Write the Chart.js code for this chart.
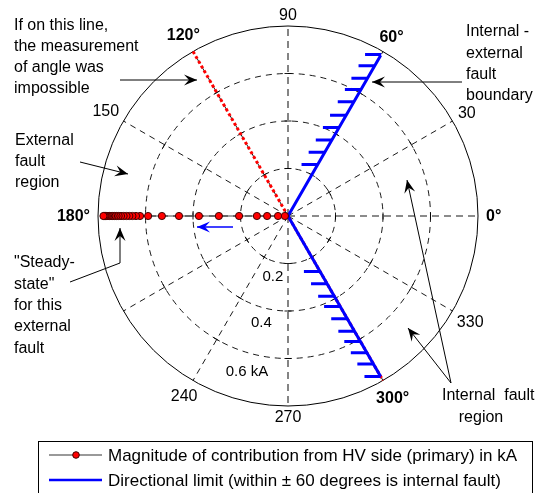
<!DOCTYPE html>
<html>
<head>
<meta charset="utf-8">
<script src="https://cdn.jsdelivr.net/npm/chart.js@4"></script>
<style>
  html, body { margin: 0; padding: 0; background: #fff; }
  canvas { display: block; }
</style>
</head>
<body>
<canvas id="polarChart" width="538" height="493"></canvas>
<script>
// Measured HV-side contribution (kA), all at 180 degrees
const hvAngleDeg = 180;
const hvMagnitudeKA = [0.013, 0.042, 0.088, 0.131, 0.206, 0.291, 0.375, 0.459, 0.531, 0.589,
    0.623, 0.640, 0.655, 0.668, 0.680, 0.692, 0.703, 0.713, 0.722, 0.730,
    0.738, 0.745, 0.752, 0.758, 0.763, 0.768, 0.772, 0.777];

// Directional limit lines and their hatching
const limitAnglesDeg = [60, 300];
const limitLengthKA = 0.78;
const hatchRadii60 = [0.25, 0.31, 0.37, 0.43, 0.49, 0.555, 0.615, 0.67, 0.73, 0.785];
const hatchRadii300 = [0.27, 0.33, 0.39, 0.44, 0.50, 0.56, 0.61, 0.665, 0.72, 0.78];
const hatchLengthKA = 0.068;

// "Impossible measurement" line
const impossibleAnglesDeg = [120, 300];

// Polar grid
const outerRadiusKA = 0.8;
const ringTicksKA = [0.2, 0.4, 0.6];
const ringLabels = ['0.2', '0.4', '0.6 kA'];
const spokeAnglesDeg = [0, 30, 60, 90, 120, 150, 180, 210, 240, 270, 300, 330];
const spokeLabels = ['0°', '30', '60°', '90', '120°', '150', '180°', '', '240', '270', '300°', '330'];
const boldSpokes = [0, 60, 120, 180, 300];

const FONT = '"Liberation Sans", Arial, Helvetica, sans-serif';

function toXY(r, deg) {
    const a = deg * Math.PI / 180;
    return { x: r * Math.cos(a), y: r * Math.sin(a) };
}

const hvPoints = hvMagnitudeKA.map(r => toXY(r, hvAngleDeg));
const limitPoints = [toXY(limitLengthKA, limitAnglesDeg[0]), { x: 0, y: 0 }, toXY(limitLengthKA, limitAnglesDeg[1])];
const impossiblePoints = impossibleAnglesDeg.map(a => toXY(outerRadiusKA, a));

// each hatch is a short horizontal segment, separated by gaps
const hatchPoints = [];
[[hatchRadii60, limitAnglesDeg[0]], [hatchRadii300, limitAnglesDeg[1]]].forEach(([radii, ang]) => {
    radii.forEach(r => {
        const p = toXY(r, ang);
        hatchPoints.push(p, { x: p.x - hatchLengthKA, y: p.y }, { x: NaN, y: NaN });
    });
});

function arrow(ctx, pts, color, width) {
    ctx.save();
    ctx.strokeStyle = color;
    ctx.fillStyle = color;
    ctx.lineWidth = width;
    ctx.setLineDash([]);
    ctx.beginPath();
    ctx.moveTo(pts[0][0], pts[0][1]);
    for (let i = 1; i < pts.length; i++) ctx.lineTo(pts[i][0], pts[i][1]);
    ctx.stroke();
    const [x1, y1] = pts[pts.length - 2];
    const [x2, y2] = pts[pts.length - 1];
    const a = Math.atan2(y2 - y1, x2 - x1);
    const len = 13, half = 5.5, notch = 8;
    ctx.translate(x2, y2);
    ctx.rotate(a);
    ctx.beginPath();
    ctx.moveTo(0, 0);
    ctx.lineTo(-len, -half);
    ctx.lineTo(-notch, 0);
    ctx.lineTo(-len, half);
    ctx.closePath();
    ctx.fill();
    ctx.restore();
}

function textLines(ctx, lines, x, y0, step, align) {
    ctx.textAlign = align || 'left';
    lines.forEach((t, i) => ctx.fillText(t, x, y0 + i * step));
}

const polarGrid = {
    id: 'polarGrid',
    beforeDatasetsDraw(chart) {
        const ctx = chart.ctx;
        const sx = chart.scales.x, sy = chart.scales.y;
        const cx = sx.getPixelForValue(0), cy = sy.getPixelForValue(0);
        const k = sx.getPixelForValue(1) - cx;
        ctx.save();
        // dashed rings
        ctx.strokeStyle = '#000';
        ctx.lineWidth = 0.9;
        ctx.setLineDash([6, 5]);
        ringTicksKA.forEach(r => {
            ctx.beginPath();
            ctx.arc(cx, cy, r * k, 0, Math.PI * 2);
            ctx.stroke();
        });
        // spokes
        spokeAnglesDeg.forEach(a => {
            const axis = a % 90 === 0;
            const p = toXY(outerRadiusKA, a);
            ctx.strokeStyle = axis ? '#666' : '#000';
            ctx.lineWidth = axis ? 1.6 : 0.9;
            ctx.setLineDash(axis ? [7, 5] : [6, 5]);
            ctx.beginPath();
            ctx.moveTo(cx, cy);
            ctx.lineTo(sx.getPixelForValue(p.x), sy.getPixelForValue(p.y));
            ctx.stroke();
        });
        // small ticks where spokes cross rings
        ctx.setLineDash([]);
        ctx.strokeStyle = '#000';
        ctx.lineWidth = 0.9;
        spokeAnglesDeg.forEach(a => {
            const rad = a * Math.PI / 180;
            ringTicksKA.forEach(r => {
                const px = cx + r * k * Math.cos(rad), py = cy - r * k * Math.sin(rad);
                const tx = -Math.sin(rad) * 3.5, ty = -Math.cos(rad) * 3.5;
                ctx.beginPath();
                ctx.moveTo(px - tx, py - ty);
                ctx.lineTo(px + tx, py + ty);
                ctx.stroke();
            });
        });
        // outer circle
        ctx.lineWidth = 1;
        ctx.beginPath();
        ctx.arc(cx, cy, outerRadiusKA * k, 0, Math.PI * 2);
        ctx.stroke();
        ctx.restore();
    },
    afterDraw(chart) {
        const ctx = chart.ctx;
        const sx = chart.scales.x, sy = chart.scales.y;
        const cx = sx.getPixelForValue(0), cy = sy.getPixelForValue(0);
        const k = sx.getPixelForValue(1) - cx;
        ctx.save();
        ctx.fillStyle = '#000';
        ctx.textBaseline = 'middle';
        ctx.textAlign = 'center';

        // angle labels
        spokeAnglesDeg.forEach((a, i) => {
            const label = spokeLabels[i];
            if (!label) return;
            const bold = boldSpokes.includes(a);
            ctx.font = (bold ? 'bold ' : '') + '16px ' + FONT;
            const w = ctx.measureText(label).width;
            const rad = a * Math.PI / 180;
            const rp = outerRadiusKA * k + 14 + Math.abs(Math.cos(rad)) * (w / 2 - 6) - (Math.abs(Math.sin(rad)) > 0.99 ? 3 : 0);
            ctx.fillText(label, cx + rp * Math.cos(rad), cy - rp * Math.sin(rad) + 1);
        });

        // ring labels
        ctx.font = '15px ' + FONT;
        const labRad = 256 * Math.PI / 180;
        ringTicksKA.forEach((r, i) => {
            const rp = r * k + 15;
            let x = cx + rp * Math.cos(labRad), y = cy - rp * Math.sin(labRad);
            if (i === ringTicksKA.length - 1) { x -= 3; y += 3; }
            ctx.fillText(ringLabels[i], x, y);
        });

        // annotations
        ctx.font = '16px ' + FONT;
        textLines(ctx, ['If on this line,', 'the measurement', 'of angle was', 'impossible'], 14, 26, 21);
        arrow(ctx, [[120, 80], [197, 80]], '#000', 1);
        textLines(ctx, ['External', 'fault', 'region'], 15, 141, 21);
        arrow(ctx, [[80, 162], [128, 174]], '#000', 1);
        textLines(ctx, ['Internal -', 'external', 'fault', 'boundary'], 466, 32, 21.3);
        arrow(ctx, [[462, 82], [372, 82]], '#000', 1);
        textLines(ctx, ['"Steady-', 'state"', 'for this', 'external', 'fault'], 14, 263, 21.3);
        arrow(ctx, [[70, 282], [120, 263], [120, 228]], '#000', 1);
        ctx.textAlign = 'left';
        ctx.fillText('Internal  fault', 442, 396);
        ctx.textAlign = 'center';
        ctx.fillText('region', 481, 418);
        arrow(ctx, [[451, 383], [407, 180]], '#000', 1);
        arrow(ctx, [[451, 383], [408, 328]], '#000', 1);
        arrow(ctx, [[233, 227], [197, 227]], '#0000ff', 1.6);

        // legend box
        const ds = chart.data.datasets;
        ctx.fillStyle = '#fff';
        ctx.fillRect(38.5, 441.5, 494, 60);
        ctx.strokeStyle = '#000';
        ctx.lineWidth = 1;
        ctx.strokeRect(38.5, 441.5, 494, 60);
        ctx.strokeStyle = '#777';
        ctx.lineWidth = 1.3;
        ctx.beginPath();
        ctx.moveTo(49, 455); ctx.lineTo(102, 455);
        ctx.stroke();
        ctx.fillStyle = '#ff0000';
        ctx.strokeStyle = '#400000';
        ctx.lineWidth = 1;
        ctx.beginPath();
        ctx.arc(76, 455, 3.3, 0, Math.PI * 2);
        ctx.fill(); ctx.stroke();
        ctx.strokeStyle = '#0000ff';
        ctx.lineWidth = 2.5;
        ctx.beginPath();
        ctx.moveTo(49, 480); ctx.lineTo(102, 480);
        ctx.stroke();
        ctx.fillStyle = '#000';
        ctx.textAlign = 'left';
        ctx.font = '17px ' + FONT;
        ctx.fillText(ds[0].label, 108, 456);
        ctx.fillText(ds[1].label, 108, 481);
        ctx.restore();
    }
};

const ctx = document.getElementById('polarChart').getContext('2d');
const polarChart = new Chart(ctx, {
    type: 'scatter',
    data: {
        datasets: [{
            label: 'Magnitude of contribution from HV side (primary) in kA',
            data: hvPoints,
            showLine: true,
            borderColor: '#444',
            borderWidth: 1.2,
            pointRadius: 3.6,
            pointBackgroundColor: '#ff0000',
            pointBorderColor: '#400000',
            pointBorderWidth: 1,
            clip: false
        }, {
            label: 'Directional limit (within ± 60 degrees is internal fault)',
            data: limitPoints,
            showLine: true,
            borderColor: '#0000ff',
            borderWidth: 3,
            pointRadius: 0,
            clip: false
        }, {
            label: 'hatching',
            data: hatchPoints,
            showLine: true,
            spanGaps: false,
            borderColor: '#0000ff',
            borderWidth: 3,
            borderCapStyle: 'butt',
            pointRadius: 0,
            clip: false
        }, {
            label: 'impossible',
            data: impossiblePoints,
            showLine: true,
            borderColor: '#ff0000',
            borderWidth: 3,
            borderDash: [3, 2.5],
            borderCapStyle: 'butt',
            pointRadius: 0,
            clip: false
        }]
    },
    options: {
        responsive: false,
        animation: false,
        events: [],
        layout: { padding: { left: 98, right: 60, top: 26, bottom: 87 } },
        plugins: {
            legend: { display: false },
            tooltip: { enabled: false }
        },
        scales: {
            x: { type: 'linear', min: -outerRadiusKA, max: outerRadiusKA, display: false },
            y: { type: 'linear', min: -outerRadiusKA, max: outerRadiusKA, display: false }
        }
    },
    plugins: [polarGrid]
});
</script>
</body>
</html>
